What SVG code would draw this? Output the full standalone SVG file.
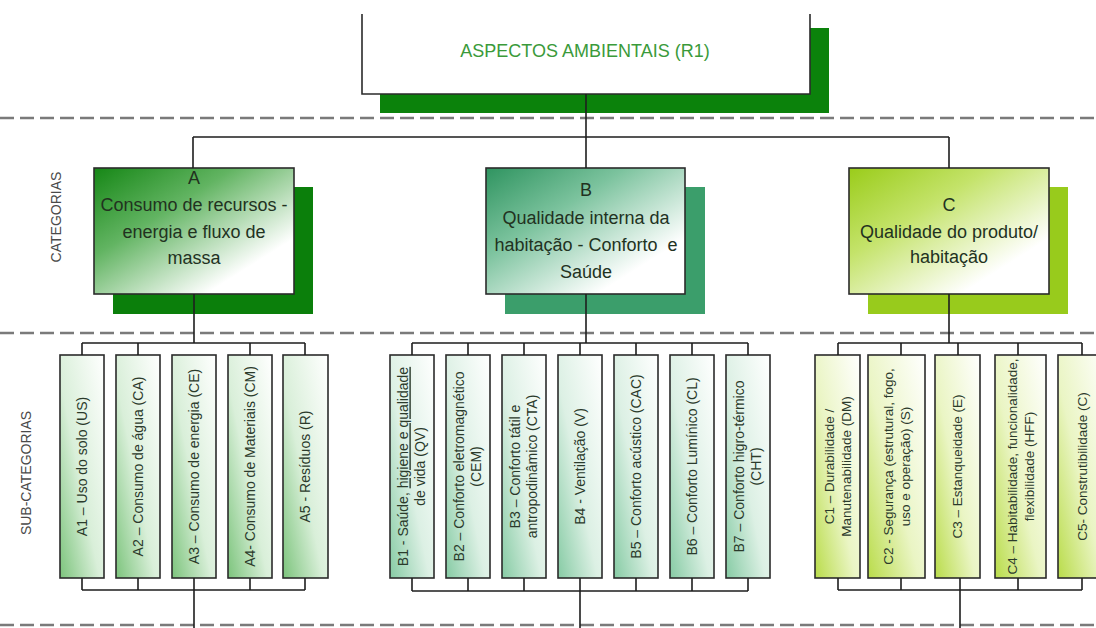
<svg xmlns="http://www.w3.org/2000/svg" width="1096" height="628" viewBox="0 0 1096 628">
<style>
.dash{stroke:#7a7a7a;stroke-width:2.5;stroke-dasharray:14 6;fill:none}
.box{stroke:#2b2b2b;stroke-width:1.6}
.con{stroke:#1e1e1e;stroke-width:1.6;fill:none}
.cat{font-family:"Liberation Sans",Arial,sans-serif;font-size:18px;fill:#22321f;text-anchor:middle}
.sub{font-family:"Liberation Sans",Arial,sans-serif;font-size:14px;fill:#2b3a2b;text-anchor:middle}
.subc{font-family:"Liberation Sans",Arial,sans-serif;font-size:13.5px;fill:#2b3a2b;text-anchor:middle}
.lab{font-family:"Liberation Sans",Arial,sans-serif;font-size:14px;fill:#4a4a4a;text-anchor:middle}
</style>
<defs>
<linearGradient id="gA" x1="0" y1="0" x2="1" y2="1">
<stop offset="0" stop-color="#168716"/><stop offset="0.35" stop-color="#62b462"/><stop offset="0.78" stop-color="#ffffff"/>
</linearGradient>
<linearGradient id="gB" x1="0" y1="0" x2="1" y2="1">
<stop offset="0" stop-color="#2f9460"/><stop offset="0.35" stop-color="#7cc39e"/><stop offset="0.78" stop-color="#ffffff"/>
</linearGradient>
<linearGradient id="gC" x1="0" y1="0" x2="1" y2="1">
<stop offset="0" stop-color="#9acc1a"/><stop offset="0.35" stop-color="#c4e36a"/><stop offset="0.78" stop-color="#ffffff"/>
</linearGradient>
<linearGradient id="sA" x1="0" y1="1" x2="1" y2="0">
<stop offset="0" stop-color="#7cc47c"/><stop offset="0.45" stop-color="#d9efd9"/><stop offset="1" stop-color="#ffffff"/>
</linearGradient>
<linearGradient id="sB" x1="0" y1="1" x2="1" y2="0">
<stop offset="0" stop-color="#86cba4"/><stop offset="0.45" stop-color="#dcf0e4"/><stop offset="1" stop-color="#ffffff"/>
</linearGradient>
<linearGradient id="sC" x1="0" y1="1" x2="1" y2="0">
<stop offset="0" stop-color="#b9dc4a"/><stop offset="0.45" stop-color="#eaf5c4"/><stop offset="1" stop-color="#ffffff"/>
</linearGradient>
</defs>
<rect width="1096" height="628" fill="#ffffff"/>

<g id="separators">
<line class="dash" x1="0" y1="118" x2="1096" y2="118"/>
<line class="dash" x1="0" y1="333" x2="1096" y2="333"/>
<line class="dash" x1="0" y1="625" x2="1096" y2="625"/>
</g>

<g id="labels">
<text class="lab" transform="translate(56,217) rotate(-90)" dy="0.35em">CATEGORIAS</text>
<text class="lab" transform="translate(26,473) rotate(-90)" dy="0.35em">SUB-CATEGORIAS</text>
</g>

<g id="shadows">
<rect x="380" y="28" width="449" height="85" fill="#0b820b"/>
<rect x="113" y="187" width="200" height="127" fill="#0b7f0b"/>
<rect x="505" y="187" width="200" height="127" fill="#3b9e6b"/>
<rect x="868" y="187" width="200" height="127" fill="#98cb1c"/>
</g>

<g id="root">
<path class="box" d="M362 14 V94 H810 V14" fill="#ffffff"/>
<text x="585" y="57" font-family="'Liberation Sans',Arial,sans-serif" font-size="18" fill="#3a9a3a" text-anchor="middle">ASPECTOS AMBIENTAIS (R1)</text>
</g>

<g id="catA">
<rect class="box" x="94" y="168" width="200" height="126" fill="url(#gA)"/>
<text class="cat" x="194" y="184">A</text>
<text class="cat" x="194" y="211">Consumo de recursos -</text>
<text class="cat" x="194" y="238">energia e fluxo de</text>
<text class="cat" x="194" y="264">massa</text>
</g>
<g id="catB">
<rect class="box" x="486" y="168" width="199" height="126" fill="url(#gB)"/>
<text class="cat" x="586" y="196">B</text>
<text class="cat" x="586" y="224">Qualidade interna da</text>
<text class="cat" x="586" y="251" xml:space="preserve">habitação - Conforto  e</text>
<text class="cat" x="586" y="278">Saúde</text>
</g>
<g id="catC">
<rect class="box" x="849" y="168" width="200" height="126" fill="url(#gC)"/>
<text class="cat" x="949" y="211">C</text>
<text class="cat" x="949" y="238">Qualidade do produto/</text>
<text class="cat" x="949" y="263">habitação</text>
</g>

<g id="A1"><rect class="box" x="60" y="355" width="44" height="223" fill="url(#sA)"/>
<text class="sub" transform="translate(82,466.5) rotate(-90)" dy="0.35em">A1 – Uso do solo (US)</text></g>
<g id="A2"><rect class="box" x="116" y="355" width="44" height="223" fill="url(#sA)"/>
<text class="sub" transform="translate(138,466.5) rotate(-90)" dy="0.35em">A2 – Consumo de água (CA)</text></g>
<g id="A3"><rect class="box" x="172" y="355" width="44" height="223" fill="url(#sA)"/>
<text class="sub" transform="translate(194,466.5) rotate(-90)" dy="0.35em">A3 – Consumo de energia (CE)</text></g>
<g id="A4"><rect class="box" x="228" y="355" width="44" height="223" fill="url(#sA)"/>
<text class="sub" transform="translate(250,466.5) rotate(-90)" dy="0.35em">A4- Consumo de Materiais (CM)</text></g>
<g id="A5"><rect class="box" x="283" y="355" width="45" height="223" fill="url(#sA)"/>
<text class="sub" transform="translate(305.5,466.5) rotate(-90)" dy="0.35em">A5 - Resíduos (R)</text></g>

<g id="B1"><rect class="box" x="390" y="355" width="44" height="223" fill="url(#sB)"/>
<text class="sub" transform="translate(412,466.5) rotate(-90)"><tspan x="0" y="-8.5" dy="0.35em">B1 - Saúde, <tspan text-decoration="underline">higiene e qualidade</tspan></tspan><tspan x="0" y="8.5" dy="0.35em">de vida (QV)</tspan></text></g>
<g id="B2"><rect class="box" x="446" y="355" width="44" height="223" fill="url(#sB)"/>
<text class="sub" transform="translate(468,466.5) rotate(-90)"><tspan x="0" y="-8.5" dy="0.35em">B2 – Conforto eletromagnético</tspan><tspan x="0" y="8.5" dy="0.35em">(CEM)</tspan></text></g>
<g id="B3"><rect class="box" x="502" y="355" width="44" height="223" fill="url(#sB)"/>
<text class="sub" transform="translate(524,466.5) rotate(-90)"><tspan x="0" y="-8.5" dy="0.35em">B3 – Conforto tátil e</tspan><tspan x="0" y="8.5" dy="0.35em">antropodinâmico (CTA)</tspan></text></g>
<g id="B4"><rect class="box" x="558" y="355" width="44" height="223" fill="url(#sB)"/>
<text class="sub" transform="translate(580,466.5) rotate(-90)" dy="0.35em">B4 - Ventilação (V)</text></g>
<g id="B5"><rect class="box" x="614" y="355" width="44" height="223" fill="url(#sB)"/>
<text class="sub" transform="translate(636,466.5) rotate(-90)" dy="0.35em">B5 – Conforto acústico (CAC)</text></g>
<g id="B6"><rect class="box" x="670" y="355" width="44" height="223" fill="url(#sB)"/>
<text class="sub" transform="translate(692,466.5) rotate(-90)" dy="0.35em">B6 – Conforto Lumínico (CL)</text></g>
<g id="B7"><rect class="box" x="726" y="355" width="44" height="223" fill="url(#sB)"/>
<text class="sub" transform="translate(748,466.5) rotate(-90)"><tspan x="0" y="-8.5" dy="0.35em">B7 – Conforto higro-térmico</tspan><tspan x="0" y="8.5" dy="0.35em">(CHT)</tspan></text></g>

<g id="C1"><rect class="box" x="815" y="355" width="45" height="223" fill="url(#sC)"/>
<text class="subc" transform="translate(837.5,466.5) rotate(-90)"><tspan x="0" y="-8.5" dy="0.35em">C1 – Durabilidade /</tspan><tspan x="0" y="8.5" dy="0.35em">Manutenabilidade (DM)</tspan></text></g>
<g id="C2"><rect class="box" x="868" y="355" width="57" height="223" fill="url(#sC)"/>
<text class="subc" transform="translate(896.5,466.5) rotate(-90)"><tspan x="0" y="-8.5" dy="0.35em">C2 - Segurança (estrutural, fogo,</tspan><tspan x="0" y="8.5" dy="0.35em">uso e operação) (S)</tspan></text></g>
<g id="C3"><rect class="box" x="935" y="355" width="45" height="223" fill="url(#sC)"/>
<text class="subc" transform="translate(957.5,466.5) rotate(-90)" dy="0.35em">C3 – Estanqueidade (E)</text></g>
<g id="C4"><rect class="box" x="995" y="355" width="51" height="223" fill="url(#sC)"/>
<text class="subc" transform="translate(1020.5,466.5) rotate(-90)"><tspan x="0" y="-8.5" dy="0.35em">C4 – Habitabilidade, funcionalidade,</tspan><tspan x="0" y="8.5" dy="0.35em">flexibilidade (HFF)</tspan></text></g>
<g id="C5"><rect class="box" x="1058" y="355" width="50" height="223" fill="url(#sC)"/>
<text class="subc" transform="translate(1082,466.5) rotate(-90)" dy="0.35em">C5- Construtibilidade (C)</text></g>

<g id="connectors">
<path class="con" d="M586 94 V137 M193 137 H949 M193 137 V168 M586 137 V168 M949 137 V168"/>
<path class="con" d="M194 294 V343 M82 343 H305 M82 343 V355 M138 343 V355 M250 343 V355 M305 343 V355 M82 590 H305 M82 578 V590 M138 578 V590 M194 578 V628 M250 578 V590 M305 578 V590"/>
<path class="con" d="M586 294 V343 M412 343 H748 M412 343 V355 M468 343 V355 M524 343 V355 M580 343 V355 M636 343 V355 M692 343 V355 M748 343 V355 M412 591 H748 M412 578 V591 M468 578 V591 M524 578 V591 M580 578 V628 M636 578 V591 M692 578 V591 M748 578 V591"/>
<path class="con" d="M949 294 V343 M838 343 H1082 M838 343 V355 M901 343 V355 M958 343 V355 M1018 343 V355 M1082 343 V355 M838 590 H1082 M838 578 V590 M901 578 V590 M960 578 V628 M1018 578 V590 M1082 578 V590"/>
</g>
</svg>
